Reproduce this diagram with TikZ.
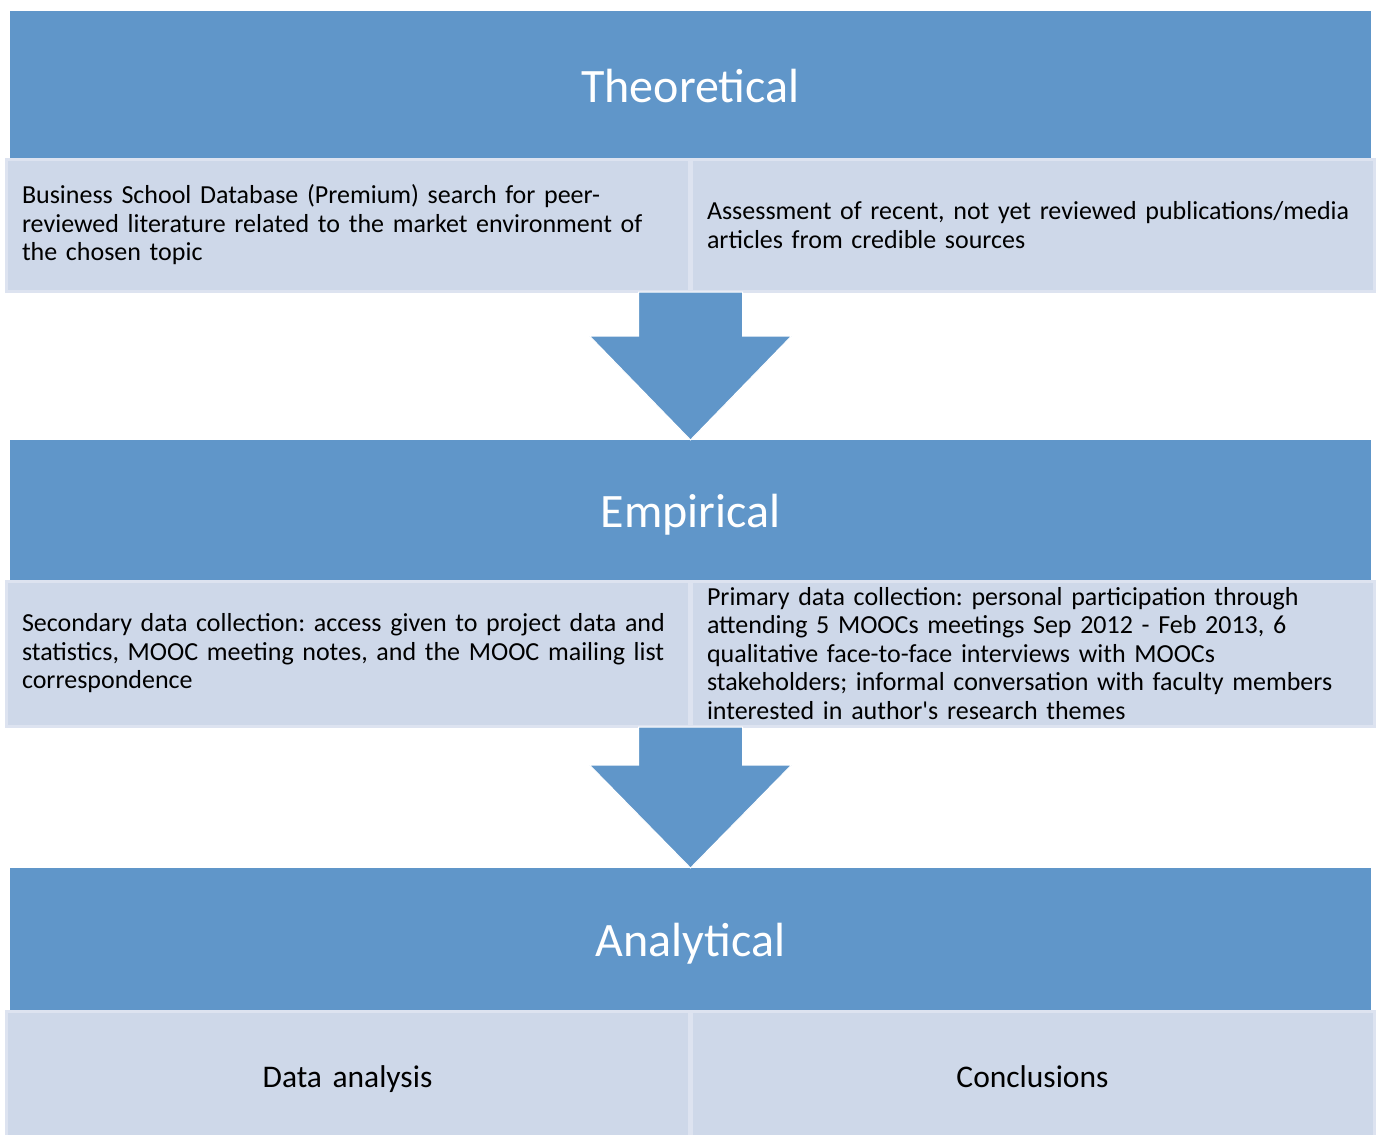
\documentclass[tikz,border=0pt]{standalone}
\usepackage{fontspec}
\setmainfont{Carlito}[Ligatures=TeXOff]
\usetikzlibrary{calc}
\definecolor{hdrblue}{RGB}{96,150,201}
\definecolor{subfill}{RGB}{206,216,233}
\definecolor{subedge}{RGB}{221,227,240}
\tikzset{
  hdr/.style={fill=hdrblue, text=white, inner sep=0pt, outer sep=0pt,
    minimum width=1361pt, text height=35pt, text depth=0pt,
    font=\fontsize{48}{56}\selectfont, anchor=north west},
  subbox/.style={fill=subfill, draw=subedge, line width=3pt, inner xsep=16pt, inner ysep=0pt,
    outer sep=0pt, minimum width=683pt, text width=651pt, align=left,
    font=\frenchspacing\fontsize{26}{28.5}\selectfont, anchor=north west},
  subcenter/.style={subbox, align=center, text height=18pt, text depth=0pt,
    font=\fontsize{31.5}{36}\selectfont},
  blockarrow/.style={fill=hdrblue, draw=white, line width=1pt}
}
\begin{document}
\begin{tikzpicture}[x=1pt,y=-1pt]
\useasboundingbox (0,0) rectangle (1382,1135);
% Theoretical
\node[hdr, minimum height=147pt] (h1) at (10,11) {Theoretical};
\node[subbox, minimum height=132pt] (l1) at (6,159) {Business School Database (Premium) search for peer-\\reviewed literature related to the market environment of\\the chosen topic};
\node[subbox, minimum height=132pt] (r1) at (691,159) {Assessment of recent, not yet reviewed publications/media\\articles from credible sources};
% Empirical
\node[hdr, minimum height=140pt] (h2) at (10,440) {Empirical};
\node[subbox, minimum height=145pt] (l2) at (6,581) {Secondary data collection: access given to project data and\\statistics, MOOC meeting notes, and the MOOC mailing list\\correspondence};
\node[subbox, minimum height=145pt] (r2) at (691,581) {Primary data collection: personal participation through\\attending 5 MOOCs meetings Sep 2012 - Feb 2013, 6\\qualitative face-to-face interviews with MOOCs\\stakeholders; informal conversation with faculty members\\interested in author's research themes};
% Analytical
\node[hdr, minimum height=142pt] (h3) at (10,868) {Analytical};
\node[subcenter, minimum height=135pt] (l3) at (6,1011) {Data analysis};
\node[subcenter, minimum height=135pt] (r3) at (691,1011) {Conclusions};
% arrow 1
\coordinate (a1) at (l1.south -| h2.north);
\fill[blockarrow] ($(a1)+(-52,1)$) -- ($(a1)+(52,1)$) -- ($(h2.north)+(52,-104)$)
  -- ($(h2.north)+(101,-104)$) -- (h2.north) -- ($(h2.north)+(-101,-104)$) -- ($(h2.north)+(-52,-104)$) -- cycle;
% arrow 2
\coordinate (a2) at (l2.south -| h3.north);
\fill[blockarrow] ($(a2)+(-52,1)$) -- ($(a2)+(52,1)$) -- ($(h3.north)+(52,-103)$)
  -- ($(h3.north)+(101,-103)$) -- (h3.north) -- ($(h3.north)+(-101,-103)$) -- ($(h3.north)+(-52,-103)$) -- cycle;
\end{tikzpicture}
\end{document}
